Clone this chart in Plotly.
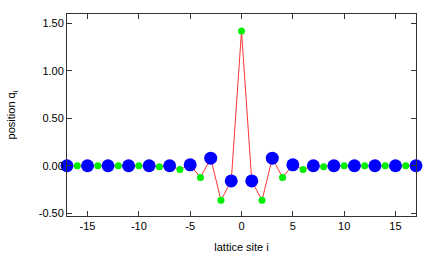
import plotly.graph_objects as go

sites = list(range(-17, 18))
positions = [0.0, 0.0, 0.0, 0.0, 0.0, 0.0, 0.0, 0.0, 0.0, -0.01, 0.0, -0.04, 0.01, -0.125, 0.08, -0.365, -0.16,
             1.42,
             -0.16, -0.365, 0.08, -0.125, 0.01, -0.04, 0.0, -0.01, 0.0, 0.0, 0.0, 0.0, 0.0, 0.0, 0.0, 0.0, 0.0]
x_ticks = [-15, -10, -5, 0, 5, 10, 15]
y_ticks = [-0.5, 0.0, 0.5, 1.0, 1.5]

odd_x = [s for s in sites if s % 2 != 0]
odd_y = [p for s, p in zip(sites, positions) if s % 2 != 0]
even_x = [s for s in sites if s % 2 == 0]
even_y = [p for s, p in zip(sites, positions) if s % 2 == 0]

fig = go.Figure()
fig.add_trace(go.Scatter(x=sites, y=positions, mode="lines",
                         line=dict(color="#ff0000", width=0.8), cliponaxis=False, showlegend=False))
fig.add_trace(go.Scatter(x=even_x, y=even_y, mode="markers",
                         marker=dict(color="#00ee00", size=7, line=dict(width=0)), cliponaxis=False, showlegend=False))
fig.add_trace(go.Scatter(x=odd_x, y=odd_y, mode="markers",
                         marker=dict(color="#0000ff", size=13, line=dict(width=0)), cliponaxis=False, showlegend=False))

axis_common = dict(showline=True, linecolor="#333333", linewidth=1, mirror="ticks",
                   ticks="inside", ticklen=5, tickcolor="#333333", showgrid=False, zeroline=False,
                   automargin=False,
                   tickfont=dict(family="Liberation Sans, Arial, sans-serif", size=11, color="#000000"))

fig.update_layout(
    width=436, height=254,
    margin=dict(l=67, r=20, t=14, b=38),
    paper_bgcolor="white", plot_bgcolor="white",
    font=dict(family="Liberation Sans, Arial, sans-serif", size=11, color="#000000"),
    xaxis=dict(range=[-17, 17], tickvals=x_ticks, ticktext=[str(v) for v in x_ticks],
               title=dict(text="lattice site i", standoff=12, font=dict(size=11)), **axis_common),
    yaxis=dict(range=[-0.53, 1.6], tickvals=y_ticks, ticktext=[f"{v:.2f}" for v in y_ticks],
               title=dict(text="position q<sub>i</sub>", standoff=20, font=dict(size=11)), **axis_common),
)

fig.write_html("out.html", config={"displayModeBar": False},
               post_script="document.body.style.margin='0';document.body.style.overflow='hidden';")
